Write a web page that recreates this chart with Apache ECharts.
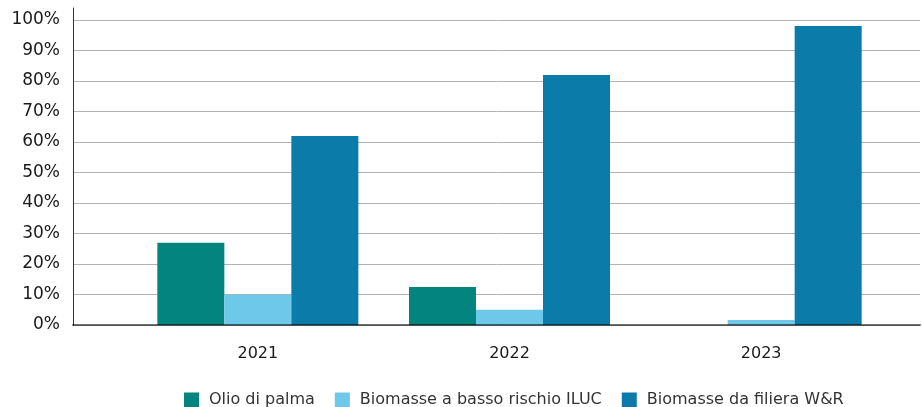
<!DOCTYPE html>
<html><head><meta charset="utf-8">
<script src="https://cdn.jsdelivr.net/npm/echarts@6/dist/echarts.min.js"></script>
<style>html,body{margin:0;padding:0;background:#fff}#c{width:922px;height:407px}</style>
</head><body><div id="c"></div>
<script>
const categories = ['2021', '2022', '2023'];
const seriesNames = ['Olio di palma', 'Biomasse a basso rischio ILUC', 'Biomasse da filiera W&R'];
const olioDiPalma = [27, 12.5, 0];
const bassoRischio = [10, 5, 1.6];
const filieraWR = [62, 82, 98];
const colors = ['#03847f', '#6ec8ea', '#0b7ba9'];
const font = 'DejaVu Sans';

const chart = echarts.init(document.getElementById('c'));
const values = [olioDiPalma, bassoRischio, filieraWR];
chart.setOption({
  animation: false,
  textStyle: { fontFamily: font },
  grid: [
    { left: 73, right: 2, top: 8, bottom: 82 },
    { left: 73, right: 2, top: 20, bottom: 82 },
    { left: 132, right: 35, top: 20, bottom: 82 }
  ],
  xAxis: [
    { gridIndex: 0, type: 'value', min: 0, max: 1, z: 5, axisLine: { show: true, lineStyle: { color: 'rgba(0,0,0,0.55)', width: 2 } }, axisTick: { show: false }, axisLabel: { show: false }, splitLine: { show: false } },
    { gridIndex: 1, type: 'value', min: 0, max: 1, show: false },
    { gridIndex: 2, type: 'category', data: categories, axisLine: { show: false }, axisTick: { show: false },
      axisLabel: { color: '#1a1a1a', fontSize: 16, margin: 21, fontFamily: font } }
  ],
  yAxis: [
    { gridIndex: 0, type: 'value', min: 0, max: 1, axisLine: { show: true, lineStyle: { color: '#333', width: 1 } }, axisTick: { show: false }, axisLabel: { show: false }, splitLine: { show: false } },
    { gridIndex: 1, type: 'value', min: 0, max: 100, interval: 10,
      axisLine: { show: false }, axisTick: { show: false },
      axisLabel: { color: '#1a1a1a', fontSize: 17, margin: 13, formatter: '{value}%', fontFamily: font },
      splitLine: { show: true, lineStyle: { color: '#b3b3b3', width: 1 } } },
    { gridIndex: 2, type: 'value', min: 0, max: 100, show: false }
  ],
  legend: {
    left: 179, top: 387, itemWidth: 15, itemHeight: 15, itemGap: 20,
    icon: 'rect',
    textStyle: { color: '#333', fontSize: 16, fontFamily: font, padding: [0, 0, 0, 5] },
    data: seriesNames
  },
  series: seriesNames.map((n, i) => ({
    name: n, type: 'bar', xAxisIndex: 2, yAxisIndex: 2,
    data: values[i], barWidth: 67, barGap: '0%',
    itemStyle: { color: colors[i] }
  }))
});
</script></body></html>
